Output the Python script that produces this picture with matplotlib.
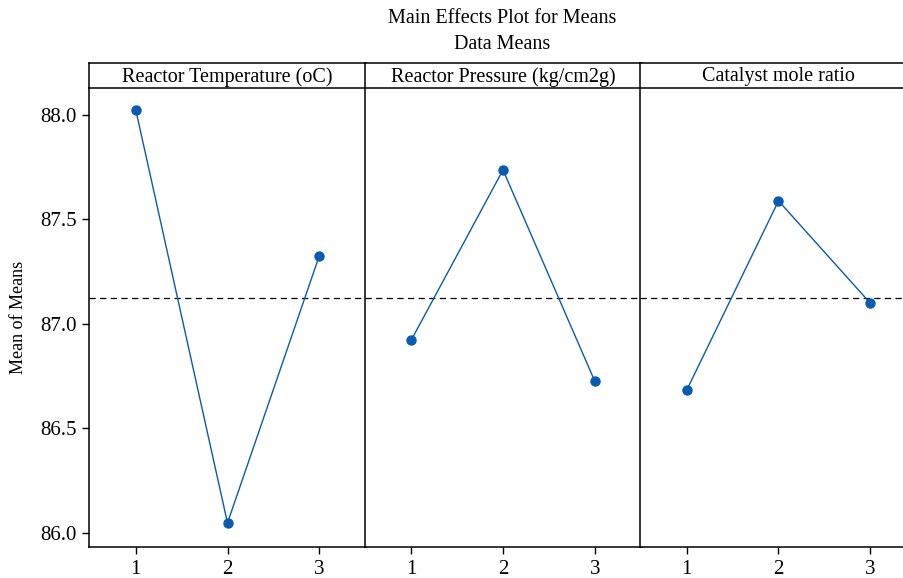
import matplotlib.pyplot as plt

plt.rcParams['font.family'] = ['Liberation Serif', 'DejaVu Serif']

# data
factors = ['Reactor Temperature (oC)', 'Reactor Pressure (kg/cm2g)', 'Catalyst mole ratio']
levels = [1, 2, 3]
temp_means = [88.024, 86.048, 87.325]
press_means = [86.923, 87.737, 86.727]
ratio_means = [86.684, 87.589, 87.100]
grand_mean = 87.126
yticks = [86.0, 86.5, 87.0, 87.5, 88.0]

series = [temp_means, press_means, ratio_means]
blue = '#0a5bb0'

fig = plt.figure(figsize=(9.04, 5.78), dpi=100)

left = 89 / 904
width = 277 / 904
bottom = 31 / 578
height = 459 / 578
strip_h = 25 / 578

for i, (name, vals) in enumerate(zip(factors, series)):
    x0 = left + i * width - (i * 1.5 / 904)
    ax = fig.add_axes([x0, bottom, width, height])
    ax.plot(levels, vals, color=blue, lw=1.0, marker='o', ms=6.5, zorder=3)
    ax.axhline(grand_mean, color='black', ls=(0, (5, 3.5)), lw=0.9)
    ax.set_xlim(0.49, 3.51)
    ax.set_ylim(85.933, 88.129)
    ax.set_xticks(levels)
    ax.set_xticklabels([str(l) for l in levels])
    ax.tick_params(axis='x', direction='out', length=5, width=1, labelsize=15, pad=4)
    for s in ax.spines.values():
        s.set_linewidth(1.1)
    ax.spines['top'].set_visible(False)
    if i == 0:
        ax.set_yticks(yticks)
        ax.set_yticklabels(['%.1f' % t for t in yticks])
        ax.tick_params(axis='y', direction='out', length=5, width=1, labelsize=15, pad=4)
        ax.set_ylabel('Mean of Means', fontsize=13, labelpad=9)
    else:
        ax.set_yticks([])

    # strip header above each panel
    sax = fig.add_axes([x0, bottom + height, width, strip_h])
    sax.set_xticks([])
    sax.set_yticks([])
    for s in sax.spines.values():
        s.set_linewidth(1.1)
    sax.text(0.5, 0.45, name, ha='center', va='center', fontsize=14.5, transform=sax.transAxes)

fig.text(0.556, 0.968, 'Main Effects Plot for Means', ha='center', va='center', fontsize=14.5)
fig.text(0.556, 0.923, 'Data Means', ha='center', va='center', fontsize=14.5)

fig.savefig('out.png', dpi=100)
